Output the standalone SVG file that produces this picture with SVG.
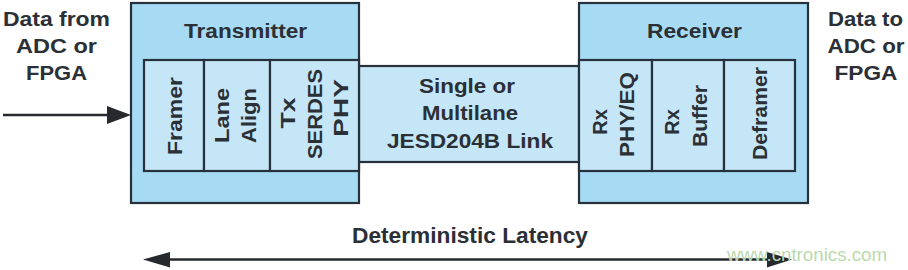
<svg xmlns="http://www.w3.org/2000/svg" width="908" height="270" viewBox="0 0 908 270">
<defs>
<style>
.outer{fill:#a7dbf3;stroke:#26313b;stroke-width:2.2}
.cell{fill:#c4e6f7;stroke:#26313b;stroke-width:2.2}
.t{font-family:"Liberation Sans",Arial,sans-serif;font-weight:bold;font-size:19.5px;fill:#2b2f36;text-anchor:middle}
.v{font-family:"Liberation Sans",Arial,sans-serif;font-weight:bold;font-size:20px;fill:#2b2f36;text-anchor:middle}
.conn{stroke:#26292e;stroke-width:2.4;fill:none}
.head{fill:#26292e}
</style>
</defs>
<rect width="908" height="270" fill="#ffffff"/>

<g id="data-in">
<text class="t" x="56.5" y="26" textLength="107" lengthAdjust="spacingAndGlyphs">Data from</text>
<text class="t" x="56.5" y="53" textLength="81" lengthAdjust="spacingAndGlyphs">ADC or</text>
<text class="t" x="56.5" y="80" textLength="61" lengthAdjust="spacingAndGlyphs">FPGA</text>
</g>

<g id="data-out">
<text class="t" x="865.5" y="26" textLength="75" lengthAdjust="spacingAndGlyphs">Data to</text>
<text class="t" x="866" y="53" textLength="77" lengthAdjust="spacingAndGlyphs">ADC or</text>
<text class="t" x="866" y="80" textLength="63" lengthAdjust="spacingAndGlyphs">FPGA</text>
</g>

<g id="link">
<rect class="cell" x="358" y="66" width="223" height="96"/>
<text class="t" x="467" y="93" textLength="96" lengthAdjust="spacingAndGlyphs">Single or</text>
<text class="t" x="470" y="120" textLength="96" lengthAdjust="spacingAndGlyphs">Multilane</text>
<text class="t" x="470" y="148" textLength="166" lengthAdjust="spacingAndGlyphs">JESD204B Link</text>
</g>

<g id="transmitter">
<rect class="outer" x="131" y="3" width="228" height="200"/>
<text class="t" x="245.5" y="38" textLength="123" lengthAdjust="spacingAndGlyphs">Transmitter</text>
</g>
<g id="framer">
<rect class="cell" x="144" y="60" width="60" height="111"/>
<text class="v" transform="translate(182 116) rotate(-90)" textLength="78" lengthAdjust="spacingAndGlyphs">Framer</text>
</g>
<g id="lane-align">
<rect class="cell" x="204" y="60" width="66" height="111"/>
<text class="v" transform="translate(229 115.5) rotate(-90)" textLength="55" lengthAdjust="spacingAndGlyphs">Lane</text>
<text class="v" transform="translate(256 115.5) rotate(-90)" textLength="55" lengthAdjust="spacingAndGlyphs">Align</text>
</g>
<g id="tx-serdes-phy">
<rect class="cell" x="270" y="60" width="89" height="111"/>
<text class="v" transform="translate(295 113) rotate(-90)" textLength="31" lengthAdjust="spacingAndGlyphs">Tx</text>
<text class="v" transform="translate(322 114) rotate(-90)" textLength="90" lengthAdjust="spacingAndGlyphs">SERDES</text>
<text class="v" transform="translate(348 108) rotate(-90)" textLength="58" lengthAdjust="spacingAndGlyphs">PHY</text>
</g>

<g id="receiver">
<rect class="outer" x="579" y="3" width="229" height="200"/>
<text class="t" x="694.5" y="38" textLength="95" lengthAdjust="spacingAndGlyphs">Receiver</text>
</g>
<g id="rx-phy-eq">
<rect class="cell" x="579" y="60" width="73" height="111"/>
<text class="v" transform="translate(607 122) rotate(-90)">Rx</text>
<text class="v" transform="translate(634 114.5) rotate(-90)" textLength="85" lengthAdjust="spacingAndGlyphs">PHY/EQ</text>
</g>
<g id="rx-buffer">
<rect class="cell" x="652" y="60" width="72" height="111"/>
<text class="v" transform="translate(679 122) rotate(-90)">Rx</text>
<text class="v" transform="translate(707 116) rotate(-90)" textLength="62" lengthAdjust="spacingAndGlyphs">Buffer</text>
</g>
<g id="deframer">
<rect class="cell" x="724" y="60" width="71" height="111"/>
<text class="v" transform="translate(767 113.5) rotate(-90)" textLength="93" lengthAdjust="spacingAndGlyphs">Deframer</text>
</g>

<g id="connectors">
<line class="conn" x1="3" y1="115" x2="110" y2="115"/>
<polygon class="head" points="131,115 107,106 107,124"/>
<line class="conn" x1="165" y1="259.5" x2="772" y2="259.5"/>
<polygon class="head" points="143,259.5 170,252 170,267.5"/>
<polygon class="head" points="792,259.5 767,252 767,267.5"/>
<text x="470" y="243" font-family="Liberation Sans,Arial,sans-serif" font-weight="bold" font-size="22" fill="#2b2f36" text-anchor="middle" textLength="236" lengthAdjust="spacingAndGlyphs">Deterministic Latency</text>
</g>

<text x="807" y="261" font-family="Liberation Sans,Arial,sans-serif" font-size="18" fill="#bcd9ae" text-anchor="middle" textLength="160" lengthAdjust="spacingAndGlyphs">www.cntronics.com</text>
</svg>
